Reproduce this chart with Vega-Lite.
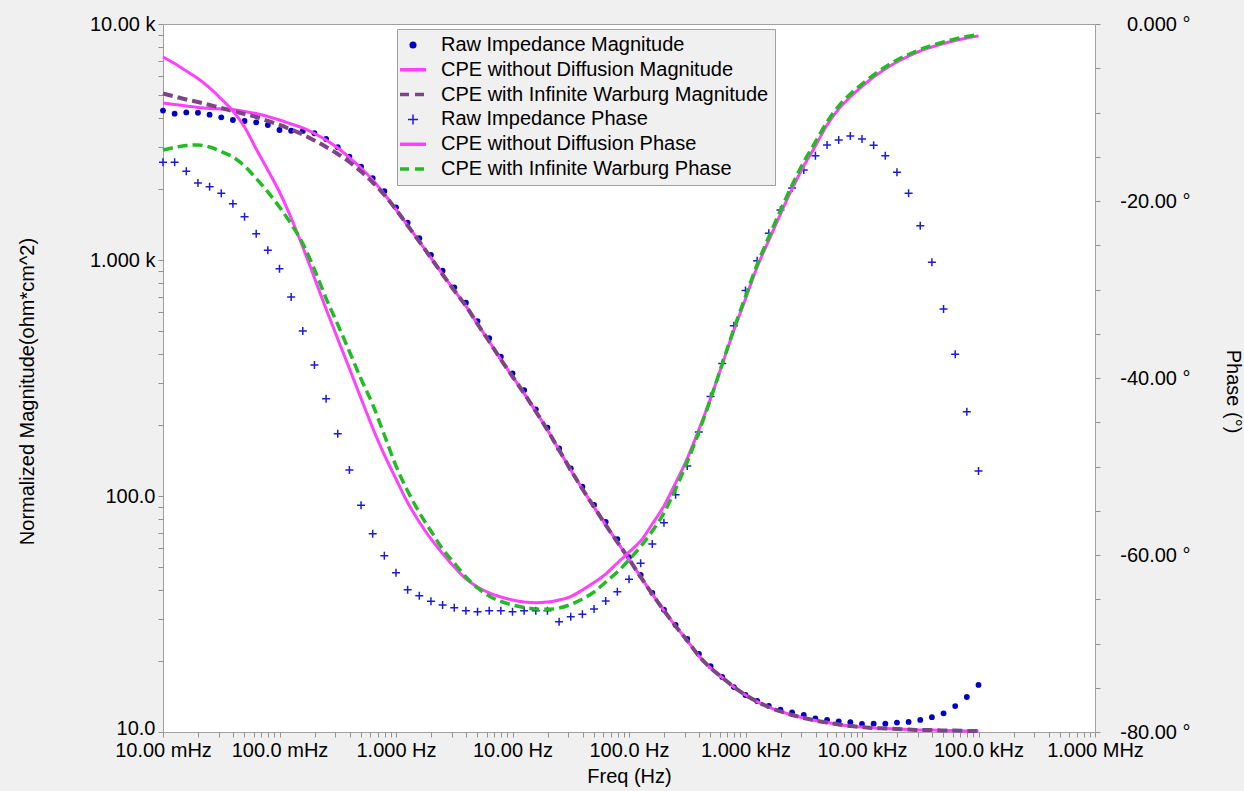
{
  "$schema": "https://vega.github.io/schema/vega-lite/v6.json",
  "width": 932,
  "height": 708,
  "autosize": {"type": "none"},
  "padding": {"left": 163, "top": 24, "right": 149, "bottom": 59},
  "background": "#f0f0f0",
  "config": {
    "view": {"fill": "white", "stroke": "#a0a0a0", "strokeWidth": 1},
    "font": "Liberation Sans",
    "axis": {
      "labelFont": "Liberation Sans", "labelFontSize": 20, "labelColor": "#000000",
      "titleFont": "Liberation Sans", "titleFontSize": 20, "titleFontWeight": "normal", "titleColor": "#000000",
      "grid": false, "domain": false, "tickColor": "#909090", "tickSize": 5,
      "labelFlush": false, "labelOverlap": false, "labelBound": false
    }
  },
  "data": {"values": [
    {"f": 0.01, "Raw Impedance Magnitude": 4295, "CPE without Diffusion Magnitude": 4628, "CPE with Infinite Warburg Magnitude": 5076, "Raw Impedance Phase": -15.63, "CPE without Diffusion Phase": -3.73, "CPE with Infinite Warburg Phase": -14.24},
    {"f": 0.012589, "Raw Impedance Magnitude": 4169, "CPE without Diffusion Magnitude": 4560, "CPE with Infinite Warburg Magnitude": 4930, "Raw Impedance Phase": -15.63, "CPE without Diffusion Phase": -4.46, "CPE with Infinite Warburg Phase": -13.95},
    {"f": 0.015849, "Raw Impedance Magnitude": 4221, "CPE without Diffusion Magnitude": 4494, "CPE with Infinite Warburg Magnitude": 4787, "Raw Impedance Phase": -16.64, "CPE without Diffusion Phase": -5.31, "CPE with Infinite Warburg Phase": -13.73},
    {"f": 0.019953, "Raw Impedance Magnitude": 4207, "CPE without Diffusion Magnitude": 4429, "CPE with Infinite Warburg Magnitude": 4672, "Raw Impedance Phase": -17.97, "CPE without Diffusion Phase": -6.16, "CPE with Infinite Warburg Phase": -13.67},
    {"f": 0.025119, "Raw Impedance Magnitude": 4128, "CPE without Diffusion Magnitude": 4385, "CPE with Infinite Warburg Magnitude": 4538, "Raw Impedance Phase": -18.39, "CPE without Diffusion Phase": -7.23, "CPE with Infinite Warburg Phase": -13.90},
    {"f": 0.031623, "Raw Impedance Magnitude": 4024, "CPE without Diffusion Magnitude": 4364, "CPE with Infinite Warburg Magnitude": 4408, "Raw Impedance Phase": -19.13, "CPE without Diffusion Phase": -8.47, "CPE with Infinite Warburg Phase": -14.41},
    {"f": 0.039811, "Raw Impedance Magnitude": 3919, "CPE without Diffusion Magnitude": 4343, "CPE with Infinite Warburg Magnitude": 4280, "Raw Impedance Phase": -20.31, "CPE without Diffusion Phase": -9.83, "CPE with Infinite Warburg Phase": -15.03},
    {"f": 0.050119, "Raw Impedance Magnitude": 3881, "CPE without Diffusion Magnitude": 4258, "CPE with Infinite Warburg Magnitude": 4156, "Raw Impedance Phase": -21.78, "CPE without Diffusion Phase": -11.64, "CPE with Infinite Warburg Phase": -16.05},
    {"f": 0.063096, "Raw Impedance Magnitude": 3831, "CPE without Diffusion Magnitude": 4176, "CPE with Infinite Warburg Magnitude": 4036, "Raw Impedance Phase": -23.70, "CPE without Diffusion Phase": -14.12, "CPE with Infinite Warburg Phase": -17.46},
    {"f": 0.079433, "Raw Impedance Magnitude": 3733, "CPE without Diffusion Magnitude": 4057, "CPE with Infinite Warburg Magnitude": 3882, "Raw Impedance Phase": -25.57, "CPE without Diffusion Phase": -16.50, "CPE with Infinite Warburg Phase": -18.98},
    {"f": 0.1, "Raw Impedance Magnitude": 3556, "CPE without Diffusion Magnitude": 3920, "CPE with Infinite Warburg Magnitude": 3733, "Raw Impedance Phase": -27.65, "CPE without Diffusion Phase": -18.98, "CPE with Infinite Warburg Phase": -20.68},
    {"f": 0.12589, "Raw Impedance Magnitude": 3530, "CPE without Diffusion Magnitude": 3770, "CPE with Infinite Warburg Magnitude": 3572, "Raw Impedance Phase": -30.85, "CPE without Diffusion Phase": -21.92, "CPE with Infinite Warburg Phase": -22.60},
    {"f": 0.15849, "Raw Impedance Magnitude": 3522, "CPE without Diffusion Magnitude": 3626, "CPE with Infinite Warburg Magnitude": 3403, "Raw Impedance Phase": -34.69, "CPE without Diffusion Phase": -25.20, "CPE with Infinite Warburg Phase": -24.80},
    {"f": 0.19953, "Raw Impedance Magnitude": 3443, "CPE without Diffusion Magnitude": 3436, "CPE with Infinite Warburg Magnitude": 3208, "Raw Impedance Phase": -38.53, "CPE without Diffusion Phase": -28.70, "CPE with Infinite Warburg Phase": -27.74},
    {"f": 0.25119, "Raw Impedance Magnitude": 3256, "CPE without Diffusion Magnitude": 3225, "CPE with Infinite Warburg Magnitude": 3012, "Raw Impedance Phase": -42.34, "CPE without Diffusion Phase": -32.20, "CPE with Infinite Warburg Phase": -31.02},
    {"f": 0.31623, "Raw Impedance Magnitude": 3004, "CPE without Diffusion Magnitude": 2983, "CPE with Infinite Warburg Magnitude": 2813, "Raw Impedance Phase": -46.29, "CPE without Diffusion Phase": -35.59, "CPE with Infinite Warburg Phase": -33.95},
    {"f": 0.39811, "Raw Impedance Magnitude": 2741, "CPE without Diffusion Magnitude": 2718, "CPE with Infinite Warburg Magnitude": 2602, "Raw Impedance Phase": -50.40, "CPE without Diffusion Phase": -38.93, "CPE with Infinite Warburg Phase": -37.01},
    {"f": 0.50119, "Raw Impedance Magnitude": 2485, "CPE without Diffusion Magnitude": 2454, "CPE with Infinite Warburg Magnitude": 2371, "Raw Impedance Phase": -54.39, "CPE without Diffusion Phase": -42.32, "CPE with Infinite Warburg Phase": -40.11},
    {"f": 0.63096, "Raw Impedance Magnitude": 2220, "CPE without Diffusion Magnitude": 2183, "CPE with Infinite Warburg Magnitude": 2130, "Raw Impedance Phase": -57.60, "CPE without Diffusion Phase": -45.65, "CPE with Infinite Warburg Phase": -42.99},
    {"f": 0.79433, "Raw Impedance Magnitude": 1955, "CPE without Diffusion Magnitude": 1904, "CPE with Infinite Warburg Magnitude": 1885, "Raw Impedance Phase": -60.08, "CPE without Diffusion Phase": -48.70, "CPE with Infinite Warburg Phase": -46.44},
    {"f": 1, "Raw Impedance Magnitude": 1672, "CPE without Diffusion Magnitude": 1637, "CPE with Infinite Warburg Magnitude": 1637, "Raw Impedance Phase": -62.00, "CPE without Diffusion Phase": -51.41, "CPE with Infinite Warburg Phase": -49.94},
    {"f": 1.2589, "Raw Impedance Magnitude": 1439, "CPE without Diffusion Magnitude": 1400, "CPE with Infinite Warburg Magnitude": 1400, "Raw Impedance Phase": -63.93, "CPE without Diffusion Phase": -54.07, "CPE with Infinite Warburg Phase": -52.77},
    {"f": 1.5849, "Raw Impedance Magnitude": 1236, "CPE without Diffusion Magnitude": 1198, "CPE with Infinite Warburg Magnitude": 1198, "Raw Impedance Phase": -64.60, "CPE without Diffusion Phase": -56.27, "CPE with Infinite Warburg Phase": -55.20},
    {"f": 1.9953, "Raw Impedance Magnitude": 1050, "CPE without Diffusion Magnitude": 1020, "CPE with Infinite Warburg Magnitude": 1020, "Raw Impedance Phase": -65.24, "CPE without Diffusion Phase": -58.19, "CPE with Infinite Warburg Phase": -57.29},
    {"f": 2.5119, "Raw Impedance Magnitude": 901, "CPE without Diffusion Magnitude": 868.3, "CPE with Infinite Warburg Magnitude": 868.3, "Raw Impedance Phase": -65.66, "CPE without Diffusion Phase": -59.83, "CPE with Infinite Warburg Phase": -59.32},
    {"f": 3.1623, "Raw Impedance Magnitude": 766, "CPE without Diffusion Magnitude": 742.7, "CPE with Infinite Warburg Magnitude": 742.7, "Raw Impedance Phase": -65.96, "CPE without Diffusion Phase": -61.36, "CPE with Infinite Warburg Phase": -60.90},
    {"f": 3.9811, "Raw Impedance Magnitude": 659, "CPE without Diffusion Magnitude": 638.4, "CPE with Infinite Warburg Magnitude": 638.4, "Raw Impedance Phase": -66.30, "CPE without Diffusion Phase": -62.71, "CPE with Infinite Warburg Phase": -62.49},
    {"f": 5.0119, "Raw Impedance Magnitude": 551, "CPE without Diffusion Magnitude": 535.6, "CPE with Infinite Warburg Magnitude": 535.6, "Raw Impedance Phase": -66.41, "CPE without Diffusion Phase": -63.62, "CPE with Infinite Warburg Phase": -63.73},
    {"f": 6.3096, "Raw Impedance Magnitude": 466, "CPE without Diffusion Magnitude": 451.5, "CPE with Infinite Warburg Magnitude": 451.5, "Raw Impedance Phase": -66.30, "CPE without Diffusion Phase": -64.29, "CPE with Infinite Warburg Phase": -64.63},
    {"f": 7.9433, "Raw Impedance Magnitude": 389, "CPE without Diffusion Magnitude": 378.8, "CPE with Infinite Warburg Magnitude": 378.8, "Raw Impedance Phase": -66.30, "CPE without Diffusion Phase": -64.75, "CPE with Infinite Warburg Phase": -65.25},
    {"f": 10, "Raw Impedance Magnitude": 331, "CPE without Diffusion Magnitude": 320.9, "CPE with Infinite Warburg Magnitude": 320.9, "Raw Impedance Phase": -66.41, "CPE without Diffusion Phase": -65.08, "CPE with Infinite Warburg Phase": -65.65},
    {"f": 12.589, "Raw Impedance Magnitude": 281, "CPE without Diffusion Magnitude": 272.0, "CPE with Infinite Warburg Magnitude": 272.0, "Raw Impedance Phase": -66.30, "CPE without Diffusion Phase": -65.31, "CPE with Infinite Warburg Phase": -65.93},
    {"f": 15.849, "Raw Impedance Magnitude": 233, "CPE without Diffusion Magnitude": 228.2, "CPE with Infinite Warburg Magnitude": 228.2, "Raw Impedance Phase": -66.30, "CPE without Diffusion Phase": -65.39, "CPE with Infinite Warburg Phase": -66.10},
    {"f": 19.953, "Raw Impedance Magnitude": 195, "CPE without Diffusion Magnitude": 190.4, "CPE with Infinite Warburg Magnitude": 190.4, "Raw Impedance Phase": -66.30, "CPE without Diffusion Phase": -65.31, "CPE with Infinite Warburg Phase": -66.14},
    {"f": 25.119, "Raw Impedance Magnitude": 159, "CPE without Diffusion Magnitude": 156.6, "CPE with Infinite Warburg Magnitude": 156.6, "Raw Impedance Phase": -67.54, "CPE without Diffusion Phase": -65.08, "CPE with Infinite Warburg Phase": -65.99},
    {"f": 31.623, "Raw Impedance Magnitude": 131, "CPE without Diffusion Magnitude": 128.9, "CPE with Infinite Warburg Magnitude": 128.9, "Raw Impedance Phase": -66.97, "CPE without Diffusion Phase": -64.69, "CPE with Infinite Warburg Phase": -65.59},
    {"f": 39.811, "Raw Impedance Magnitude": 109.5, "CPE without Diffusion Magnitude": 107.1, "CPE with Infinite Warburg Magnitude": 107.1, "Raw Impedance Phase": -66.70, "CPE without Diffusion Phase": -63.95, "CPE with Infinite Warburg Phase": -64.97},
    {"f": 50.119, "Raw Impedance Magnitude": 91.6, "CPE without Diffusion Magnitude": 89.8, "CPE with Infinite Warburg Magnitude": 89.8, "Raw Impedance Phase": -66.10, "CPE without Diffusion Phase": -63.11, "CPE with Infinite Warburg Phase": -64.18},
    {"f": 63.096, "Raw Impedance Magnitude": 77.6, "CPE without Diffusion Magnitude": 75.4, "CPE with Infinite Warburg Magnitude": 75.4, "Raw Impedance Phase": -65.20, "CPE without Diffusion Phase": -62.15, "CPE with Infinite Warburg Phase": -63.05},
    {"f": 79.433, "Raw Impedance Magnitude": 65.7, "CPE without Diffusion Magnitude": 63.8, "CPE with Infinite Warburg Magnitude": 63.8, "Raw Impedance Phase": -64.15, "CPE without Diffusion Phase": -60.90, "CPE with Infinite Warburg Phase": -61.92},
    {"f": 100, "Raw Impedance Magnitude": 55.1, "CPE without Diffusion Magnitude": 54.1, "CPE with Infinite Warburg Magnitude": 54.1, "Raw Impedance Phase": -62.75, "CPE without Diffusion Phase": -59.66, "CPE with Infinite Warburg Phase": -60.56},
    {"f": 125.89, "Raw Impedance Magnitude": 46.3, "CPE without Diffusion Magnitude": 45.4, "CPE with Infinite Warburg Magnitude": 45.4, "Raw Impedance Phase": -60.94, "CPE without Diffusion Phase": -58.42, "CPE with Infinite Warburg Phase": -59.04},
    {"f": 158.49, "Raw Impedance Magnitude": 38.8, "CPE without Diffusion Magnitude": 38.4, "CPE with Infinite Warburg Magnitude": 38.4, "Raw Impedance Phase": -58.76, "CPE without Diffusion Phase": -56.50, "CPE with Infinite Warburg Phase": -57.29},
    {"f": 199.53, "Raw Impedance Magnitude": 33.0, "CPE without Diffusion Magnitude": 32.7, "CPE with Infinite Warburg Magnitude": 32.7, "Raw Impedance Phase": -56.35, "CPE without Diffusion Phase": -54.46, "CPE with Infinite Warburg Phase": -55.25},
    {"f": 251.19, "Raw Impedance Magnitude": 28.4, "CPE without Diffusion Magnitude": 28.1, "CPE with Infinite Warburg Magnitude": 28.1, "Raw Impedance Phase": -53.18, "CPE without Diffusion Phase": -51.86, "CPE with Infinite Warburg Phase": -52.54},
    {"f": 316.23, "Raw Impedance Magnitude": 24.8, "CPE without Diffusion Magnitude": 24.4, "CPE with Infinite Warburg Magnitude": 24.4, "Raw Impedance Phase": -49.94, "CPE without Diffusion Phase": -49.10, "CPE with Infinite Warburg Phase": -49.49},
    {"f": 398.11, "Raw Impedance Magnitude": 21.4, "CPE without Diffusion Magnitude": 21.0, "CPE with Infinite Warburg Magnitude": 21.0, "Raw Impedance Phase": -46.10, "CPE without Diffusion Phase": -45.82, "CPE with Infinite Warburg Phase": -46.10},
    {"f": 501.19, "Raw Impedance Magnitude": 19.0, "CPE without Diffusion Magnitude": 18.67, "CPE with Infinite Warburg Magnitude": 18.67, "Raw Impedance Phase": -42.08, "CPE without Diffusion Phase": -42.32, "CPE with Infinite Warburg Phase": -42.37},
    {"f": 630.96, "Raw Impedance Magnitude": 17.1, "CPE without Diffusion Magnitude": 17.02, "CPE with Infinite Warburg Magnitude": 17.02, "Raw Impedance Phase": -38.37, "CPE without Diffusion Phase": -38.47, "CPE with Infinite Warburg Phase": -38.42},
    {"f": 794.33, "Raw Impedance Magnitude": 15.5, "CPE without Diffusion Magnitude": 15.51, "CPE with Infinite Warburg Magnitude": 15.51, "Raw Impedance Phase": -34.09, "CPE without Diffusion Phase": -34.63, "CPE with Infinite Warburg Phase": -34.46},
    {"f": 1000, "Raw Impedance Magnitude": 14.35, "CPE without Diffusion Magnitude": 14.35, "CPE with Infinite Warburg Magnitude": 14.35, "Raw Impedance Phase": -30.10, "CPE without Diffusion Phase": -31.07, "CPE with Infinite Warburg Phase": -30.79},
    {"f": 1258.9, "Raw Impedance Magnitude": 13.53, "CPE without Diffusion Magnitude": 13.46, "CPE with Infinite Warburg Magnitude": 13.46, "Raw Impedance Phase": -26.75, "CPE without Diffusion Phase": -27.46, "CPE with Infinite Warburg Phase": -27.18},
    {"f": 1584.9, "Raw Impedance Magnitude": 12.89, "CPE without Diffusion Magnitude": 12.76, "CPE with Infinite Warburg Magnitude": 12.76, "Raw Impedance Phase": -23.64, "CPE without Diffusion Phase": -24.46, "CPE with Infinite Warburg Phase": -24.07},
    {"f": 1995.3, "Raw Impedance Magnitude": 12.45, "CPE without Diffusion Magnitude": 12.22, "CPE with Infinite Warburg Magnitude": 12.22, "Raw Impedance Phase": -21.02, "CPE without Diffusion Phase": -21.47, "CPE with Infinite Warburg Phase": -21.07},
    {"f": 2511.9, "Raw Impedance Magnitude": 12.12, "CPE without Diffusion Magnitude": 11.80, "CPE with Infinite Warburg Magnitude": 11.80, "Raw Impedance Phase": -18.53, "CPE without Diffusion Phase": -18.64, "CPE with Infinite Warburg Phase": -18.19},
    {"f": 3162.3, "Raw Impedance Magnitude": 11.80, "CPE without Diffusion Magnitude": 11.47, "CPE with Infinite Warburg Magnitude": 11.47, "Raw Impedance Phase": -16.50, "CPE without Diffusion Phase": -16.05, "CPE with Infinite Warburg Phase": -15.59},
    {"f": 3981.1, "Raw Impedance Magnitude": 11.43, "CPE without Diffusion Magnitude": 11.19, "CPE with Infinite Warburg Magnitude": 11.19, "Raw Impedance Phase": -14.88, "CPE without Diffusion Phase": -13.79, "CPE with Infinite Warburg Phase": -13.33},
    {"f": 5011.9, "Raw Impedance Magnitude": 11.25, "CPE without Diffusion Magnitude": 10.97, "CPE with Infinite Warburg Magnitude": 10.97, "Raw Impedance Phase": -13.67, "CPE without Diffusion Phase": -11.41, "CPE with Infinite Warburg Phase": -11.07},
    {"f": 6309.6, "Raw Impedance Magnitude": 11.10, "CPE without Diffusion Magnitude": 10.76, "CPE with Infinite Warburg Magnitude": 10.76, "Raw Impedance Phase": -13.11, "CPE without Diffusion Phase": -9.60, "CPE with Infinite Warburg Phase": -9.27},
    {"f": 7943.3, "Raw Impedance Magnitude": 11.00, "CPE without Diffusion Magnitude": 10.60, "CPE with Infinite Warburg Magnitude": 10.60, "Raw Impedance Phase": -12.66, "CPE without Diffusion Phase": -8.25, "CPE with Infinite Warburg Phase": -7.91},
    {"f": 10000, "Raw Impedance Magnitude": 10.82, "CPE without Diffusion Magnitude": 10.50, "CPE with Infinite Warburg Magnitude": 10.50, "Raw Impedance Phase": -12.99, "CPE without Diffusion Phase": -7.06, "CPE with Infinite Warburg Phase": -6.78},
    {"f": 12589, "Raw Impedance Magnitude": 10.85, "CPE without Diffusion Magnitude": 10.39, "CPE with Infinite Warburg Magnitude": 10.39, "Raw Impedance Phase": -13.71, "CPE without Diffusion Phase": -5.99, "CPE with Infinite Warburg Phase": -5.76},
    {"f": 15849, "Raw Impedance Magnitude": 10.85, "CPE without Diffusion Magnitude": 10.35, "CPE with Infinite Warburg Magnitude": 10.35, "Raw Impedance Phase": -14.88, "CPE without Diffusion Phase": -5.08, "CPE with Infinite Warburg Phase": -4.86},
    {"f": 19953, "Raw Impedance Magnitude": 10.96, "CPE without Diffusion Magnitude": 10.30, "CPE with Infinite Warburg Magnitude": 10.30, "Raw Impedance Phase": -16.76, "CPE without Diffusion Phase": -4.29, "CPE with Infinite Warburg Phase": -4.07},
    {"f": 25119, "Raw Impedance Magnitude": 11.03, "CPE without Diffusion Magnitude": 10.25, "CPE with Infinite Warburg Magnitude": 10.25, "Raw Impedance Phase": -19.13, "CPE without Diffusion Phase": -3.62, "CPE with Infinite Warburg Phase": -3.45},
    {"f": 31623, "Raw Impedance Magnitude": 11.25, "CPE without Diffusion Magnitude": 10.20, "CPE with Infinite Warburg Magnitude": 10.20, "Raw Impedance Phase": -22.79, "CPE without Diffusion Phase": -3.05, "CPE with Infinite Warburg Phase": -2.88},
    {"f": 39811, "Raw Impedance Magnitude": 11.56, "CPE without Diffusion Magnitude": 10.20, "CPE with Infinite Warburg Magnitude": 10.20, "Raw Impedance Phase": -26.93, "CPE without Diffusion Phase": -2.60, "CPE with Infinite Warburg Phase": -2.43},
    {"f": 50119, "Raw Impedance Magnitude": 12.00, "CPE without Diffusion Magnitude": 10.15, "CPE with Infinite Warburg Magnitude": 10.15, "Raw Impedance Phase": -32.20, "CPE without Diffusion Phase": -2.20, "CPE with Infinite Warburg Phase": -2.03},
    {"f": 63096, "Raw Impedance Magnitude": 12.88, "CPE without Diffusion Magnitude": 10.15, "CPE with Infinite Warburg Magnitude": 10.15, "Raw Impedance Phase": -37.32, "CPE without Diffusion Phase": -1.86, "CPE with Infinite Warburg Phase": -1.69},
    {"f": 79433, "Raw Impedance Magnitude": 14.07, "CPE without Diffusion Magnitude": 10.10, "CPE with Infinite Warburg Magnitude": 10.10, "Raw Impedance Phase": -43.81, "CPE without Diffusion Phase": -1.58, "CPE with Infinite Warburg Phase": -1.41},
    {"f": 100000, "Raw Impedance Magnitude": 15.83, "CPE without Diffusion Magnitude": 10.10, "CPE with Infinite Warburg Magnitude": 10.10, "Raw Impedance Phase": -50.51, "CPE without Diffusion Phase": -1.36, "CPE with Infinite Warburg Phase": -1.19}
  ]},
  "encoding": {
    "x": {
      "field": "f", "type": "quantitative",
      "scale": {"type": "log", "domain": [0.01, 1000000]},
      "axis": {
        "title": "Freq (Hz)",
        "values": [0.01,0.02,0.03,0.04,0.05,0.06,0.07,0.08,0.09,0.1,0.2,0.3,0.4,0.5,0.6,0.7,0.8,0.9,1,2,3,4,5,6,7,8,9,10,20,30,40,50,60,70,80,90,100,200,300,400,500,600,700,800,900,1000,2000,3000,4000,5000,6000,7000,8000,9000,10000,20000,30000,40000,50000,60000,70000,80000,90000,100000,200000,300000,400000,500000,600000,700000,800000,900000,1000000],
        "labelExpr": "datum.value === 0.01 ? '10.00 mHz' : datum.value === 0.1 ? '100.0 mHz' : datum.value === 1 ? '1.000 Hz' : datum.value === 10 ? '10.00 Hz' : datum.value === 100 ? '100.0 Hz' : datum.value === 1000 ? '1.000 kHz' : datum.value === 10000 ? '10.00 kHz' : datum.value === 100000 ? '100.0 kHz' : datum.value === 1000000 ? '1.000 MHz' : ''",
        "labelPadding": 3,
        "titlePadding": 6
      }
    },
    "color": {
      "field": "series", "type": "nominal",
      "scale": {
        "domain": ["Raw Impedance Magnitude", "CPE without Diffusion Magnitude", "CPE with Infinite Warburg Magnitude", "Raw Impedance Phase", "CPE without Diffusion Phase", "CPE with Infinite Warburg Phase"],
        "range": ["#0000c0", "#ff40ff", "#7d4585", "#1c1cd8", "#ff40ff", "#22bb22"]
      },
      "legend": {
        "title": null,
        "orient": "none",
        "legendX": 234,
        "legendY": 5,
        "fillColor": "#f0f0f0",
        "strokeColor": "#a0a0a0",
        "padding": 6,
        "rowPadding": 4.8,
        "labelFont": "Liberation Sans",
        "labelFontSize": 20,
        "labelColor": "#000000",
        "labelOffset": 18,
        "labelLimit": 0,
        "symbolType": "stroke",
        "symbolSize": 400,
        "symbolStrokeWidth": 3,
        "encode": {
          "symbols": {
            "update": {
              "shape": {"signal": "datum.value === 'Raw Impedance Magnitude' ? 'circle' : datum.value === 'Raw Impedance Phase' ? 'M-1,0H1M0,-1V1' : 'stroke'"},
              "size": {"signal": "datum.value === 'Raw Impedance Magnitude' ? 50 : datum.value === 'Raw Impedance Phase' ? 100 : 676"},
              "fill": {"signal": "datum.value === 'Raw Impedance Magnitude' ? scale('color', datum.value) : 'transparent'"},
              "stroke": {"signal": "scale('color', datum.value)"},
              "strokeWidth": {"signal": "datum.value === 'Raw Impedance Phase' ? 1.5 : datum.value === 'Raw Impedance Magnitude' ? 0 : 3.5"},
              "strokeDash": {"signal": "indexof(datum.value, 'Warburg') >= 0 ? [9, 6] : [1, 0]"},
              "opacity": {"value": 1}
            }
          }
        }
      }
    }
  },
  "layer": [
    {
      "transform": [{"fold": ["Raw Impedance Magnitude", "CPE without Diffusion Magnitude", "CPE with Infinite Warburg Magnitude"], "as": ["series", "v"]}],
      "encoding": {
        "y": {
          "field": "v", "type": "quantitative",
          "scale": {"type": "log", "domain": [10, 10000]},
          "axis": {
            "orient": "left",
            "title": "Normalized Magnitude(ohm*cm^2)",
            "values": [10,20,30,40,50,60,70,80,90,100,200,300,400,500,600,700,800,900,1000,2000,3000,4000,5000,6000,7000,8000,9000,10000],
            "labelExpr": "datum.value === 10 ? '10.0' : datum.value === 100 ? '100.0' : datum.value === 1000 ? '1.000 k' : datum.value === 10000 ? '10.00 k' : ''",
            "labelOffset": {"condition": {"test": "datum.value === 10", "value": -4}, "value": 0},
            "labelPadding": 3,
            "titlePadding": 52,
            "titleY": 367
          }
        }
      },
      "layer": [
        {"transform": [{"filter": {"field": "series", "equal": "Raw Impedance Magnitude"}}], "mark": {"type": "point", "shape": "circle", "filled": true, "size": 34, "opacity": 1}},
        {"transform": [{"filter": {"field": "series", "equal": "CPE without Diffusion Magnitude"}}], "mark": {"type": "line", "strokeWidth": 3, "interpolate": "monotone"}},
        {"transform": [{"filter": {"field": "series", "equal": "CPE with Infinite Warburg Magnitude"}}], "mark": {"type": "line", "strokeWidth": 4, "strokeDash": [10, 5], "interpolate": "monotone"}}
      ]
    },
    {
      "transform": [{"fold": ["Raw Impedance Phase", "CPE without Diffusion Phase", "CPE with Infinite Warburg Phase"], "as": ["series", "v"]}],
      "encoding": {
        "y": {
          "field": "v", "type": "quantitative",
          "scale": {"domain": [-80, 0]},
          "axis": {
            "orient": "right",
            "title": "Phase (°)",
            "values": [0,-5,-10,-15,-20,-25,-30,-35,-40,-45,-50,-55,-60,-65,-70,-75,-80],
            "labelExpr": "datum.value === 0 ? '0.000 °' : datum.value === -20 ? '-20.00 °' : datum.value === -40 ? '-40.00 °' : datum.value === -60 ? '-60.00 °' : datum.value === -80 ? '-80.00 °' : ''",
            "labelAlign": "right",
            "labelPadding": 90,
            "titlePadding": 32,
            "titleY": 367
          }
        }
      },
      "layer": [
        {"transform": [{"filter": {"field": "series", "equal": "Raw Impedance Phase"}}], "mark": {"type": "point", "shape": "M-1,0H1M0,-1V1", "filled": false, "size": 64, "strokeWidth": 1.5, "opacity": 1}},
        {"transform": [{"filter": {"field": "series", "equal": "CPE without Diffusion Phase"}}], "mark": {"type": "line", "strokeWidth": 3, "interpolate": "monotone"}},
        {"transform": [{"filter": {"field": "series", "equal": "CPE with Infinite Warburg Phase"}}], "mark": {"type": "line", "strokeWidth": 3.5, "strokeDash": [10, 5], "interpolate": "monotone"}}
      ]
    }
  ],
  "resolve": {"scale": {"y": "independent"}}
}
